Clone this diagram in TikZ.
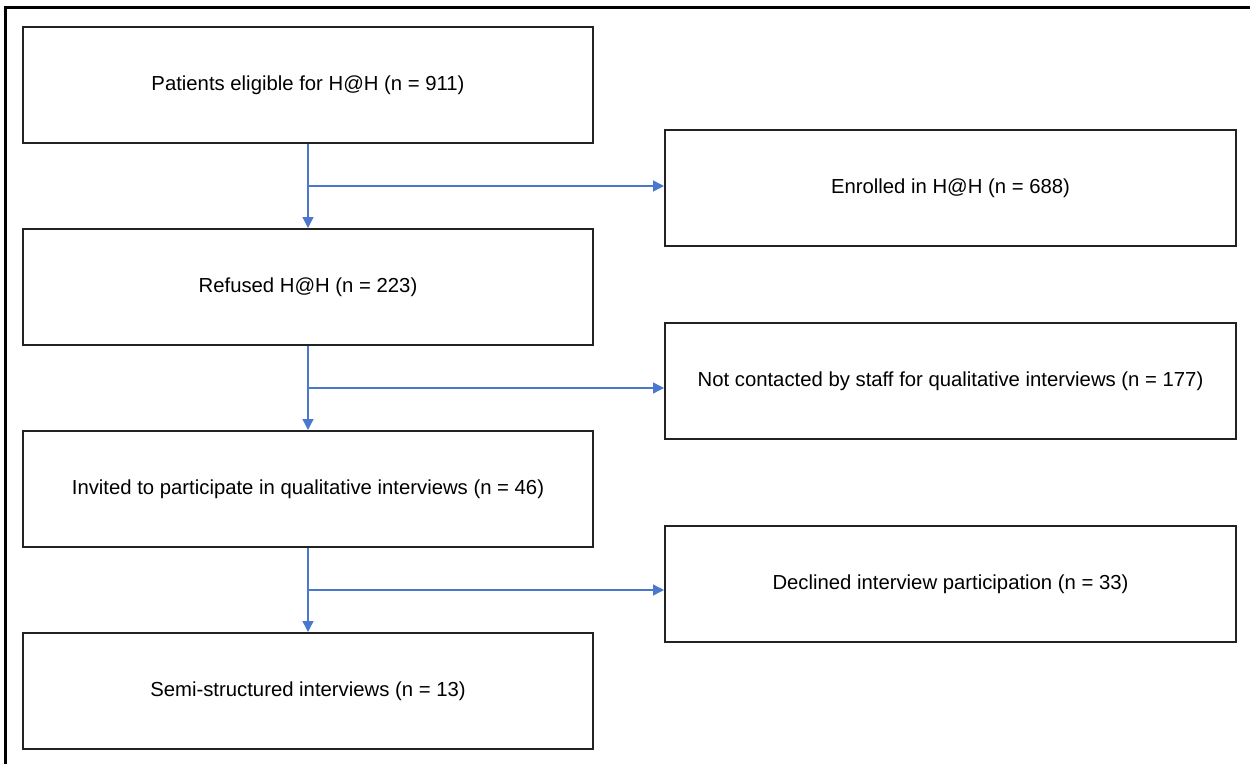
\documentclass[tikz,border=0pt]{standalone}
\usepackage{fontspec}
\setmainfont{Liberation Sans}
\usepackage{tikz}
\usetikzlibrary{positioning,arrows.meta,calc}
\definecolor{flowblue}{HTML}{4A78CF}
\definecolor{boxline}{HTML}{222222}

\tikzset{
  stagebox/.style={draw=boxline, line width=2pt, fill=white, minimum width=570pt,
    minimum height=116pt, align=center, inner sep=0pt},
  flowline/.style={flowblue, line width=1.3pt, -{Triangle[length=11pt,width=11pt]}}
}

\begin{document}
\begin{tikzpicture}[x=1pt, y=-1pt, node distance=84pt,
    font=\fontsize{20.3}{24}\selectfont]
  \useasboundingbox (0,0) rectangle (1250,764);
  \draw[black, line width=3pt] (5,764) -- (5,7) -- (1250,7);

  \node[stagebox] (b1) at (308,85) {Patients eligible for H@H (n = 911)};
  \node[stagebox, below=of b1] (b2) {Refused H@H (n = 223)};
  \node[stagebox, below=of b2] (b3) {Invited to participate in qualitative interviews (n = 46)};
  \node[stagebox, below=of b3] (b4) {Semi-structured interviews (n = 13)};

  \node[stagebox, minimum width=571pt] (r1) at (950.5,188) {Enrolled in H@H (n = 688)};
  \node[stagebox, minimum width=571pt] (r2) at (950.5,381) {Not contacted by staff for qualitative interviews (n = 177)};
  \node[stagebox, minimum width=571pt] (r3) at (950.5,584) {Declined interview participation (n = 33)};

  % branch points on the main line
  \coordinate (j1) at ($(b1.south)!0.5!(b2.north)$);
  \coordinate (j2) at ($(b2.south)!0.5!(b3.north)$);
  \coordinate (j3) at ($(b3.south)!0.5!(b4.north)$);

  \draw[flowline] (b1.south) -- (b2.north);
  \draw[flowline] (b2.south) -- (b3.north);
  \draw[flowline] (b3.south) -- (b4.north);

  \draw[flowline] (j1) -- (j1 -| r1.west);
  \draw[flowline] (j2) -- (j2 -| r2.west);
  \draw[flowline] (j3) -- (j3 -| r3.west);
\end{tikzpicture}
\end{document}
